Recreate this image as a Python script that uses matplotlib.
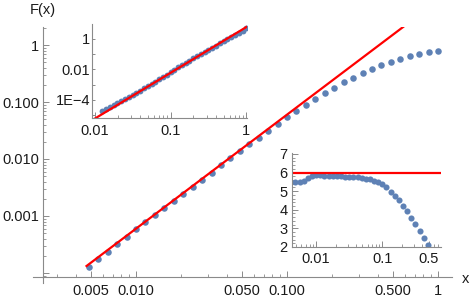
import matplotlib
matplotlib.use("Agg")
import matplotlib.pyplot as plt
from matplotlib.ticker import FixedLocator, NullFormatter, FixedFormatter
from matplotlib.lines import Line2D

plt.rcParams['font.family'] = ['Liberation Sans', 'DejaVu Sans']

# main plot: F(x) sampled points
x_pts = [0.004870, 0.005623, 0.006494, 0.007499, 0.008660, 0.01, 0.01155, 0.01334,
         0.01540, 0.01778, 0.02054, 0.02371, 0.02738, 0.03162, 0.03652, 0.04217,
         0.04870, 0.05623, 0.06494, 0.07499, 0.08660, 0.1, 0.1155, 0.1334,
         0.1540, 0.1778, 0.2054, 0.2371, 0.2738, 0.3162, 0.3652, 0.4217,
         0.4870, 0.5623, 0.6494, 0.7499, 0.8660, 1.0]
F_pts = [1.299e-4, 1.730e-4, 2.345e-4, 3.216e-4, 4.364e-4, 5.86e-4, 7.80e-4, 1.037e-3,
         1.378e-3, 1.834e-3, 2.442e-3, 3.256e-3, 4.334e-3, 5.78e-3, 7.69e-3, 1.022e-2,
         1.356e-2, 1.796e-2, 2.374e-2, 3.126e-2, 4.102e-2, 5.38e-2, 6.94e-2, 8.85e-2,
         0.1129, 0.1423, 0.1780, 0.2204, 0.2685, 0.323, 0.3815, 0.4427,
         0.5050, 0.5692, 0.6368, 0.7029, 0.7499, 0.79]
# F(x)/x^2 for the same points (lower right inset)
ratio_pts = [5.48, 5.47, 5.56, 5.72, 5.82, 5.86, 5.85, 5.83,
             5.81, 5.80, 5.79, 5.79, 5.78, 5.78, 5.77, 5.75,
             5.72, 5.68, 5.63, 5.56, 5.47, 5.38, 5.20, 4.98,
             4.76, 4.50, 4.22, 3.92, 3.58, 3.23, 2.86, 2.49,
             2.13, 1.80, 1.51, 1.25, 1.00, 0.79]

# fit lines (6 x^2 main, 6 x^3 upper inset)
fit_x = [0.0047, 1.0]
fit_y = [1.325e-4, 6.0]
fit_level = 6.0

# upper left inset
ins_x = [0.01259, 0.01413, 0.01585, 0.01778, 0.01995, 0.02239, 0.02512, 0.02818,
         0.03162, 0.03548, 0.03981, 0.04467, 0.05012, 0.05623, 0.06310, 0.07079,
         0.07943, 0.08913, 0.1, 0.1122, 0.1259, 0.1413, 0.1585, 0.1778,
         0.1995, 0.2239, 0.2512, 0.2818, 0.3162, 0.3548, 0.3981, 0.4467,
         0.5012, 0.5623, 0.6310, 0.7079, 0.7943, 0.8913, 1.0]
ins_y = [1.897e-5, 2.618e-5, 3.614e-5, 4.875e-5, 6.577e-5, 8.87e-5, 1.225e-4, 1.652e-4,
         2.228e-4, 3.006e-4, 4.150e-4, 5.728e-4, 7.907e-4, 1.117e-3, 1.578e-3, 2.280e-3,
         3.221e-3, 4.656e-3, 6.577e-3, 9.290e-3, 1.343e-2, 1.897e-2, 2.679e-2, 3.784e-2,
         5.224e-2, 7.379e-2, 0.1019, 0.1406, 0.1941, 0.2679, 0.3698, 0.5105,
         0.7047, 0.9727, 1.343, 1.854, 2.559, 3.532, 4.875]
ins_fit_x = [0.009, 1.0]
ins_fit_y = [4.374e-6, 6.0]

BLUE = '#5e81b5'
RED = '#ff0000'
AXC = '#8a8a8a'
TXT = '#1a1a1a'
FS = 10.5


def style(ax, xpad, ypad):
    ax.set_facecolor('none')
    for s in ['top', 'right']:
        ax.spines[s].set_visible(False)
    for s in ['left', 'bottom']:
        ax.spines[s].set_color(AXC)
        ax.spines[s].set_linewidth(0.8)
    ax.tick_params(which='both', direction='in', colors=AXC, labelcolor=TXT, labelsize=FS)
    ax.tick_params(which='major', length=4, width=0.7)
    ax.tick_params(which='minor', length=2.2, width=0.6)
    ax.tick_params(axis='x', which='both', pad=xpad)
    ax.tick_params(axis='y', which='both', pad=ypad)


def minors(decades, skip=()):
    out = []
    for d in decades:
        for m in range(2, 10):
            v = m * d
            if round(v, 10) not in skip:
                out.append(v)
    return out


fig = plt.figure(figsize=(4.71, 3.01), dpi=100)

# ---- main axes
ax = fig.add_axes([43 / 471, 1 - 277 / 301, 409 / 471, 250 / 301])
ax.plot(x_pts, F_pts, 'o', color=BLUE, ms=4.7, mew=0)
ax.plot(fit_x, fit_y, color=RED, lw=1.6)
ax.set_xscale('log')
ax.set_yscale('log')
ax.set_xlim(0.00242, 1.238)
ax.set_ylim(8.5e-5, 2.07)
style(ax, 5, 3)
xmaj = [0.005, 0.01, 0.05, 0.1, 0.5, 1.0]
ax.xaxis.set_major_locator(FixedLocator(xmaj))
ax.xaxis.set_major_formatter(FixedFormatter(['0.005', '0.010', '0.050', '0.100', '0.500', '1']))
ax.xaxis.set_minor_locator(FixedLocator(minors([0.001, 0.01, 0.1], skip=(0.005, 0.05, 0.5))))
ax.xaxis.set_minor_formatter(NullFormatter())
ymaj = [1e-4, 1e-3, 1e-2, 0.1, 1.0]
ax.yaxis.set_major_locator(FixedLocator(ymaj))
ax.yaxis.set_major_formatter(FixedFormatter(['', '0.001', '0.010', '0.100', '1']))
ax.yaxis.set_minor_locator(FixedLocator(minors([1e-5, 1e-4, 1e-3, 1e-2, 0.1, 1.0])))
ax.yaxis.set_minor_formatter(NullFormatter())
# axes crossing a little past the origin, as in the reference
ax.add_line(Line2D([-0.025, 0], [0, 0], transform=ax.transAxes, color=AXC, lw=0.8, clip_on=False))
ax.add_line(Line2D([0, 0], [-0.024, 0], transform=ax.transAxes, color=AXC, lw=0.8, clip_on=False))

fig.text(43 / 471, 1 - 10 / 301, 'F(x)', ha='center', va='center', fontsize=FS, color=TXT)
fig.text(466 / 471, 1 - 279 / 301, 'x', ha='center', va='center', fontsize=FS, color=TXT)

# ---- upper left inset
a1 = fig.add_axes([92 / 471, 1 - 118 / 301, 155 / 471, 94 / 301])
a1.plot(ins_x, ins_y, 'o', color=BLUE, ms=4.2, mew=0)
a1.plot(ins_fit_x, ins_fit_y, color=RED, lw=1.6)
a1.set_xscale('log')
a1.set_yscale('log')
a1.set_xlim(0.0092, 1.02)
a1.set_ylim(6.6e-6, 9.5)
style(a1, 4, 1.5)
a1.xaxis.set_major_locator(FixedLocator([0.01, 0.1, 1.0]))
a1.xaxis.set_major_formatter(FixedFormatter(['0.01', '0.1', '1']))
a1.xaxis.set_minor_locator(FixedLocator(minors([0.001, 0.01, 0.1])))
a1.xaxis.set_minor_formatter(NullFormatter())
a1.yaxis.set_major_locator(FixedLocator([1e-5, 1e-4, 1e-3, 1e-2, 0.1, 1.0]))
a1.yaxis.set_major_formatter(FixedFormatter(['', '1E\u22124', '', '0.01', '', '1']))
a1.yaxis.set_minor_locator(FixedLocator([]))
a1.tick_params(axis='y', which='major', length=2.5)

# ---- lower right inset
a2 = fig.add_axes([291.7 / 471, 1 - 247 / 301, 149.3 / 471, 94 / 301])
a2.plot(x_pts, ratio_pts, 'o', color=BLUE, ms=4.4, mew=0, clip_on=True)
a2.axhline(fit_level, color=RED, lw=1.6)
a2.set_xscale('log')
a2.set_xlim(0.00427, 0.77)
a2.set_ylim(2, 7.05)
style(a2, 3.5, 3)
a2.xaxis.set_major_locator(FixedLocator([0.01, 0.1, 0.5]))
a2.xaxis.set_major_formatter(FixedFormatter(['0.01', '0.1', '0.5']))
a2.xaxis.set_minor_locator(FixedLocator(minors([0.001, 0.01, 0.1], skip=(0.5,))))
a2.xaxis.set_minor_formatter(NullFormatter())
a2.yaxis.set_major_locator(FixedLocator([2, 3, 4, 5, 6, 7]))
a2.yaxis.set_minor_locator(FixedLocator([2 + 0.2 * i for i in range(26)]))
a2.yaxis.set_minor_formatter(NullFormatter())

fig.savefig('out.png', dpi=100)
